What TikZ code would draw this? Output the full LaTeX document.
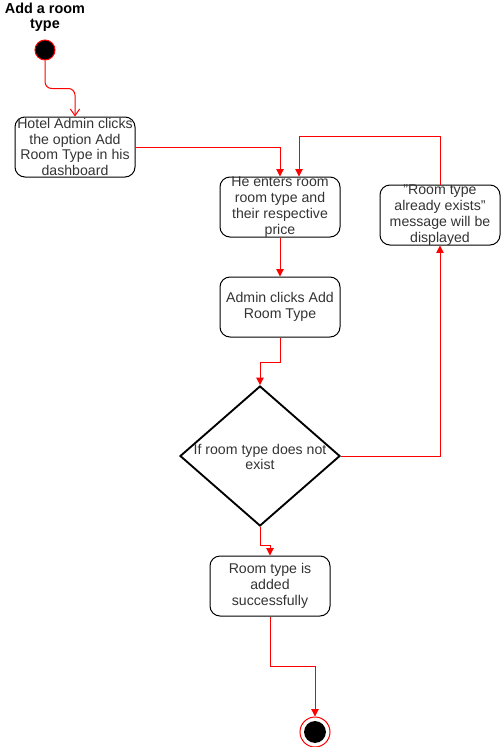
\documentclass[tikz,border=0pt]{standalone}
\usepackage{fontspec}
\setmainfont{Liberation Sans}
\usetikzlibrary{arrows.meta,shapes.geometric}
\begin{document}
\begin{tikzpicture}[x=0.75pt,y=-0.75pt,
  txt/.style={font=\fontsize{10.6}{11.8}\selectfont, text=black!80, align=center},
  box/.style={draw=black, line width=0.75pt, rounded corners=7.5pt, minimum width=90pt, minimum height=45pt, inner sep=0pt, txt},
  flow/.style={draw=red, line width=0.75pt, -{Triangle[length=5.5pt,width=5.5pt]}},
  openflow/.style={draw=red, line width=0.75pt, rounded corners=5pt, -{Straight Barb[length=5pt,width=7pt]}},
]
\useasboundingbox (0,0) rectangle (501,747);
\node[font=\bfseries\fontsize{10.8}{11.4}\selectfont, align=center] (title) at (45,17.5) {Add a room\\type};
\node[circle, fill=black, draw=red, line width=0.75pt, minimum size=15pt, inner sep=0pt] (start) at (45,50) {};
\node[box] (b1) at (75,147) {Hotel Admin clicks\\the option Add\\Room Type in his\\dashboard};
\node[box] (b2) at (280,207) {He enters room\\room type and\\their respective\\price};
\node[box] (b3) at (280,307) {Admin clicks Add\\Room Type};
\node[box] (b4) at (440,215) {\symbol{34}Room type\\already exists\symbol{34}\\message will be\\displayed};
\node[diamond, draw=black, line width=1.4pt, minimum width=120pt, minimum height=105pt, inner sep=0pt] (dec) at (260,456) {};
\node[txt] (dectext) at (260,457) {If room type does not\\exist};
\node[box] (b5) at (270,586) {Room type is\\added\\successfully};
\node[circle, draw=red, line width=0.75pt, minimum size=22.5pt, inner sep=0pt] (end) at (315,732) {};
\fill[black] (end.center) circle (8.2pt);

\draw[openflow] (start.south) -- ++(0,28) -| (b1.north);
\draw[flow] (b1.east) -| (b2.north);
\draw[flow] (b2.south) -- (b3.north);
\draw[flow] (b3.south) -- ++(0,25) -| (dec.north);
\draw[flow] (dec.east) -| (b4.south);
\draw[flow] (b4.north) -- ++(0,-48) -| ([xshift=14.25pt]b2.north);
\draw[flow] (dec.south) -- ++(0,19) -| (b5.north);
\draw[flow] (b5.south) -- ++(0,50) -| (end.north);
\end{tikzpicture}
\end{document}
